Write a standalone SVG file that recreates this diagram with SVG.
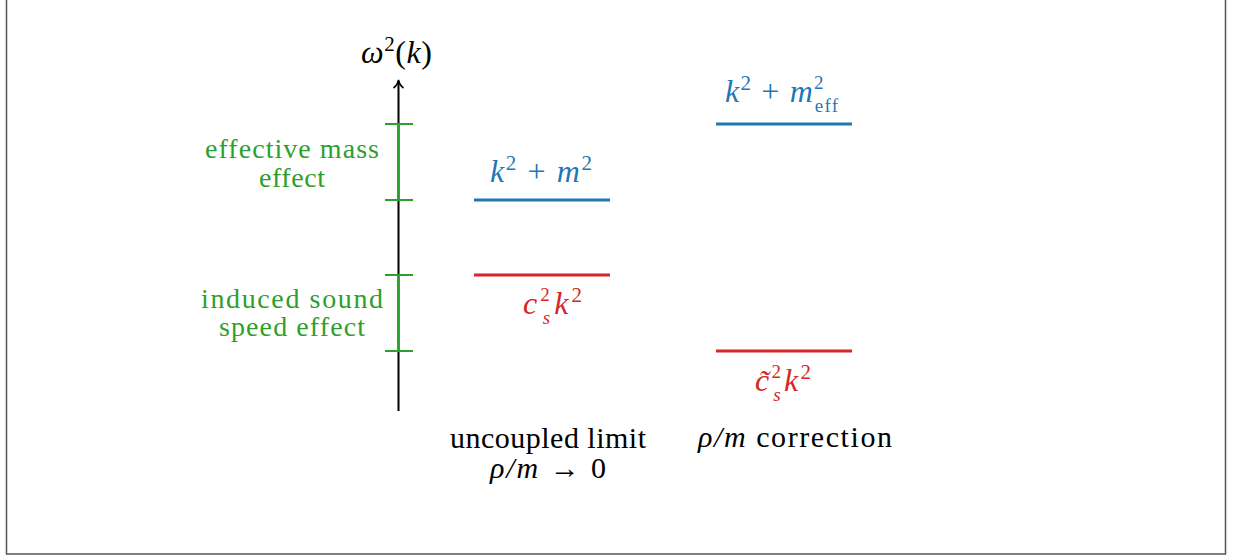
<svg xmlns="http://www.w3.org/2000/svg" width="1235" height="557" viewBox="0 0 1235 557" font-family="'Liberation Serif', 'DejaVu Serif', serif" font-size="30">
<style>
.m{font-style:italic}
.up{font-style:normal}
.mt{font-style:italic;font-size:32px}
.sp{font-style:normal;font-size:21px}
.ss{font-style:normal;font-size:19px}
.sb{font-style:italic;font-size:19px}
.lb{font-size:28px}
.g{fill:#2ca02c}
.b{fill:#1f77b4}
.r{fill:#d62728}
.gl{stroke:#2ca02c;stroke-width:2}
</style>
<rect width="1235" height="557" fill="#fff"/>
<path d="M6.5,0 V554 H1225.5 V0" fill="none" stroke="#555" stroke-width="1.5"/>
<g id="axis">
<line x1="398.5" y1="411" x2="398.5" y2="81" stroke="#000" stroke-width="2"/>
<path d="M393.5,88 Q397.5,85 398.5,80 Q399.5,85 403.5,88" fill="none" stroke="#000" stroke-width="1.6"/>
<text x="361" y="63" class="mt" textLength="71">ω<tspan class="sp" dy="-12">2</tspan><tspan class="up" dy="12">(</tspan>k<tspan class="up">)</tspan></text>
</g>
<g id="connectors">
<line class="gl" x1="398.5" y1="124" x2="398.5" y2="200"/>
<line class="gl" x1="385" y1="124" x2="413" y2="124"/>
<line class="gl" x1="385" y1="200" x2="413" y2="200"/>
<line class="gl" x1="398.5" y1="275" x2="398.5" y2="351"/>
<line class="gl" x1="385" y1="275" x2="413" y2="275"/>
<line class="gl" x1="385" y1="351" x2="413" y2="351"/>
</g>
<g id="mass-effect">
<text class="g lb" x="292" y="158" text-anchor="middle" textLength="174">effective mass</text>
<text class="g lb" x="292" y="187" text-anchor="middle" textLength="66">effect</text>
</g>
<g id="sound-effect">
<text class="g lb" x="292" y="308" text-anchor="middle" textLength="182">induced sound</text>
<text class="g lb" x="292" y="336" text-anchor="middle" textLength="146">speed effect</text>
</g>
<g id="uncoupled-blue">
<line x1="474" y1="200" x2="610" y2="200" stroke="#1f77b4" stroke-width="3"/>
<text class="b mt" x="490" y="182" textLength="102">k<tspan class="sp" dy="-12">2</tspan><tspan class="up" dy="12"> + </tspan>m<tspan class="sp" dy="-12">2</tspan></text>
</g>
<g id="uncoupled-red">
<line x1="474" y1="275" x2="610" y2="275" stroke="#d62728" stroke-width="3"/>
<text class="r mt" x="523" y="314" textLength="59">c<tspan class="ss" dy="-13">2</tspan><tspan class="sb" dx="-10" dy="23">s</tspan><tspan dy="-10" dx="1">k</tspan><tspan class="sp" dy="-12">2</tspan></text>
</g>
<g id="corrected-blue">
<line x1="716" y1="124" x2="852" y2="124" stroke="#1f77b4" stroke-width="3"/>
<text class="b mt" x="725" y="102" textLength="113">k<tspan class="sp" dy="-12">2</tspan><tspan class="up" dy="12"> + </tspan>m<tspan class="ss" dy="-13">2</tspan><tspan class="ss" dx="-10" dy="23">eff</tspan></text>
</g>
<g id="corrected-red">
<line x1="716" y1="351" x2="852" y2="351" stroke="#d62728" stroke-width="3"/>
<text class="r mt" x="755" y="391" textLength="56">c̃<tspan class="ss" dy="-13">2</tspan><tspan class="sb" dx="-10" dy="23">s</tspan><tspan dy="-10" dx="1">k</tspan><tspan class="sp" dy="-12">2</tspan></text>
</g>
<g id="label-uncoupled">
<text x="548" y="448" text-anchor="middle" textLength="196">uncoupled limit</text>
<text x="548" y="478" text-anchor="middle" textLength="116"><tspan class="m">ρ/m</tspan> → 0</text>
</g>
<g id="label-correction">
<text x="795" y="447" text-anchor="middle" textLength="194"><tspan class="m">ρ/m</tspan> correction</text>
</g>
</svg>
